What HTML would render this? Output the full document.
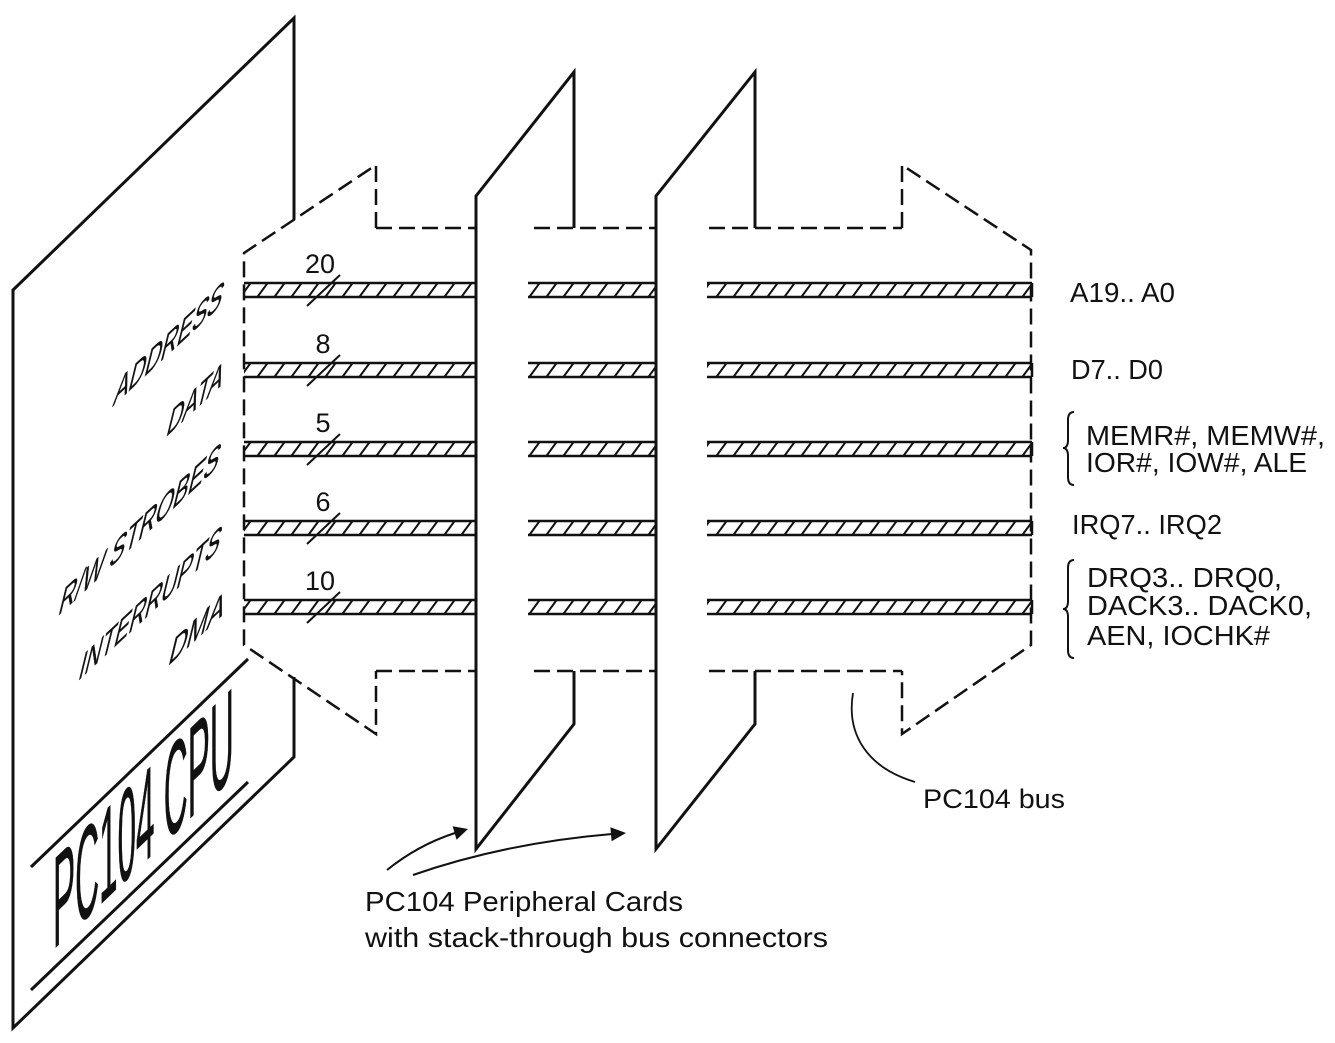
<!DOCTYPE html>
<html>
<head>
<meta charset="utf-8">
<style>
  html,body{margin:0;padding:0;background:#fff;}
  svg{display:block;}
  text{font-family:"Liberation Sans", Arial, sans-serif; fill:#111;}
</style>
</head>
<body>
<svg width="1335" height="1043" viewBox="0 0 1335 1043" xmlns="http://www.w3.org/2000/svg">
  <defs>
    <pattern id="h" patternUnits="userSpaceOnUse" width="17" height="14">
      <path d="M2,14.5 L13,-0.5" stroke="#111" stroke-width="2" fill="none"/>
    </pattern>
  </defs>
  <rect width="1335" height="1043" fill="#fff"/>

  <!-- CPU board -->
  <path d="M294,220 V18 L13,290 V1028 L294,757 V677" fill="none" stroke="#111" stroke-width="3" stroke-linejoin="miter"/>
  <line x1="31" y1="867" x2="248" y2="659" stroke="#111" stroke-width="3"/>
  <line x1="31" y1="990" x2="248" y2="782" stroke="#111" stroke-width="3"/>
  <text transform="matrix(0.254,-0.244,0,1,53,950)" font-size="130" textLength="712" lengthAdjust="spacingAndGlyphs" stroke="#111" stroke-width="0.8">PC104 CPU</text>

  <!-- Rotated side labels -->
  <g font-size="30" stroke="#111" stroke-width="0.3">
    <text transform="matrix(0.73,-0.68,-0.33,1.35,112,407)" textLength="148" lengthAdjust="spacingAndGlyphs">ADDRESS</text>
    <text transform="matrix(0.73,-0.68,-0.33,1.35,165,438)" textLength="76" lengthAdjust="spacingAndGlyphs">DATA</text>
    <text transform="matrix(0.73,-0.68,-0.33,1.35,57,617)" textLength="219" lengthAdjust="spacingAndGlyphs">R/W STROBES</text>
    <text transform="matrix(0.73,-0.68,-0.33,1.35,77,682)" textLength="193" lengthAdjust="spacingAndGlyphs">INTERRUPTS</text>
    <text transform="matrix(0.73,-0.68,-0.33,1.35,167,667)" textLength="75" lengthAdjust="spacingAndGlyphs">DMA</text>
  </g>

  <!-- Cards -->
  <polygon points="476,196 574,72 574,228 531,228 531,671 574,671 574,724 476,849" fill="#fff"/>
  <path d="M574,228 V72 L476,196 V849 L574,724 V671" fill="none" stroke="#111" stroke-width="3"/>
  <polygon points="656,196 755,72 755,228 710,228 710,671 755,671 755,724 656,849" fill="#fff"/>
  <path d="M755,228 V72 L656,196 V849 L755,724 V671" fill="none" stroke="#111" stroke-width="3"/>

  <!-- Bus dashed outline -->
  <g fill="none" stroke="#111" stroke-width="2.5" stroke-dasharray="16 7">
    <path d="M376,228 V165 L244,253 V645 L376,734 V671"/>
    <path d="M902,228 V165 L1031,250 V645 L902,734 V671"/>
    <line x1="376" y1="228" x2="476" y2="228"/>
    <line x1="534" y1="228" x2="656" y2="228"/>
    <line x1="709" y1="228" x2="902" y2="228"/>
    <line x1="376" y1="671" x2="476" y2="671"/>
    <line x1="534" y1="671" x2="656" y2="671"/>
    <line x1="709" y1="671" x2="902" y2="671"/>
  </g>

  <!-- Bus bars -->
  <g stroke="#111">
    <g transform="translate(0,283)">
      <rect x="244" y="0" width="232" height="14" fill="url(#h)" stroke="none"/>
      <rect x="528" y="0" width="128" height="14" fill="url(#h)" stroke="none"/>
      <rect x="707" y="0" width="325" height="14" fill="url(#h)" stroke="none"/>
      <path d="M244,0 H476 M244,14 H476 M528,0 H656 M528,14 H656 M707,0 H1032 M707,14 H1032 M1032,0 V14" stroke-width="2.5" fill="none"/>
    </g>
    <g transform="translate(0,363)">
      <rect x="244" y="0" width="232" height="14" fill="url(#h)" stroke="none"/>
      <rect x="528" y="0" width="128" height="14" fill="url(#h)" stroke="none"/>
      <rect x="707" y="0" width="325" height="14" fill="url(#h)" stroke="none"/>
      <path d="M244,0 H476 M244,14 H476 M528,0 H656 M528,14 H656 M707,0 H1032 M707,14 H1032 M1032,0 V14" stroke-width="2.5" fill="none"/>
    </g>
    <g transform="translate(0,442)">
      <rect x="244" y="0" width="232" height="14" fill="url(#h)" stroke="none"/>
      <rect x="528" y="0" width="128" height="14" fill="url(#h)" stroke="none"/>
      <rect x="707" y="0" width="325" height="14" fill="url(#h)" stroke="none"/>
      <path d="M244,0 H476 M244,14 H476 M528,0 H656 M528,14 H656 M707,0 H1032 M707,14 H1032 M1032,0 V14" stroke-width="2.5" fill="none"/>
    </g>
    <g transform="translate(0,521)">
      <rect x="244" y="0" width="232" height="14" fill="url(#h)" stroke="none"/>
      <rect x="528" y="0" width="128" height="14" fill="url(#h)" stroke="none"/>
      <rect x="707" y="0" width="325" height="14" fill="url(#h)" stroke="none"/>
      <path d="M244,0 H476 M244,14 H476 M528,0 H656 M528,14 H656 M707,0 H1032 M707,14 H1032 M1032,0 V14" stroke-width="2.5" fill="none"/>
    </g>
    <g transform="translate(0,600)">
      <rect x="244" y="0" width="232" height="14" fill="url(#h)" stroke="none"/>
      <rect x="528" y="0" width="128" height="14" fill="url(#h)" stroke="none"/>
      <rect x="707" y="0" width="325" height="14" fill="url(#h)" stroke="none"/>
      <path d="M244,0 H476 M244,14 H476 M528,0 H656 M528,14 H656 M707,0 H1032 M707,14 H1032 M1032,0 V14" stroke-width="2.5" fill="none"/>
    </g>
  </g>

  <!-- Width slashes -->
  <g stroke="#111" stroke-width="2">
    <line x1="307" y1="306" x2="340" y2="275"/>
    <line x1="307" y1="386" x2="340" y2="355"/>
    <line x1="307" y1="465" x2="340" y2="434"/>
    <line x1="307" y1="544" x2="340" y2="513"/>
    <line x1="307" y1="623" x2="340" y2="592"/>
  </g>
  <g font-size="27" text-anchor="middle">
    <text x="320" y="273">20</text>
    <text x="323" y="353">8</text>
    <text x="323" y="432">5</text>
    <text x="323" y="511">6</text>
    <text x="320" y="590">10</text>
  </g>

  <!-- Right labels -->
  <g font-size="28">
    <text x="1070" y="302" textLength="105" lengthAdjust="spacingAndGlyphs">A19.. A0</text>
    <text x="1071" y="379" textLength="92" lengthAdjust="spacingAndGlyphs">D7.. D0</text>
    <text x="1086" y="445" textLength="239" lengthAdjust="spacingAndGlyphs">MEMR#, MEMW#,</text>
    <text x="1086" y="472" textLength="221" lengthAdjust="spacingAndGlyphs">IOR#, IOW#, ALE</text>
    <text x="1072" y="534" textLength="150" lengthAdjust="spacingAndGlyphs">IRQ7.. IRQ2</text>
    <text x="1087" y="587" textLength="195" lengthAdjust="spacingAndGlyphs">DRQ3.. DRQ0,</text>
    <text x="1087" y="615" textLength="225" lengthAdjust="spacingAndGlyphs">DACK3.. DACK0,</text>
    <text x="1087" y="645" textLength="183" lengthAdjust="spacingAndGlyphs">AEN, IOCHK#</text>
  </g>
  <g fill="none" stroke="#111" stroke-width="2">
    <path d="M1074,412 Q1068,412 1068,420 V440 Q1068,448 1063,448 Q1068,448 1068,456 V477 Q1068,485 1074,485"/>
    <path d="M1074,560 Q1068,560 1068,568 V601 Q1068,609 1063,609 Q1068,609 1068,617 V650 Q1068,658 1074,658"/>
  </g>

  <!-- PC104 bus callout -->
  <path d="M853,693 C846,735 868,768 915,782" fill="none" stroke="#111" stroke-width="1.8"/>
  <text x="923" y="808" font-size="27" textLength="142" lengthAdjust="spacingAndGlyphs">PC104 bus</text>

  <!-- Card arrows -->
  <path d="M387,870 Q418,845 455,833" fill="none" stroke="#111" stroke-width="2"/>
  <polygon points="468,829 452.6,826.3 456.6,839.7" fill="#111"/>
  <path d="M413,875 Q505,843 612,834" fill="none" stroke="#111" stroke-width="2"/>
  <polygon points="626,833 610.4,827.3 611.6,841.3" fill="#111"/>

  <g font-size="28">
    <text x="365" y="911" textLength="318" lengthAdjust="spacingAndGlyphs">PC104 Peripheral Cards</text>
    <text x="365" y="947" textLength="463" lengthAdjust="spacingAndGlyphs">with stack-through bus connectors</text>
  </g>
</svg>
</body>
</html>
